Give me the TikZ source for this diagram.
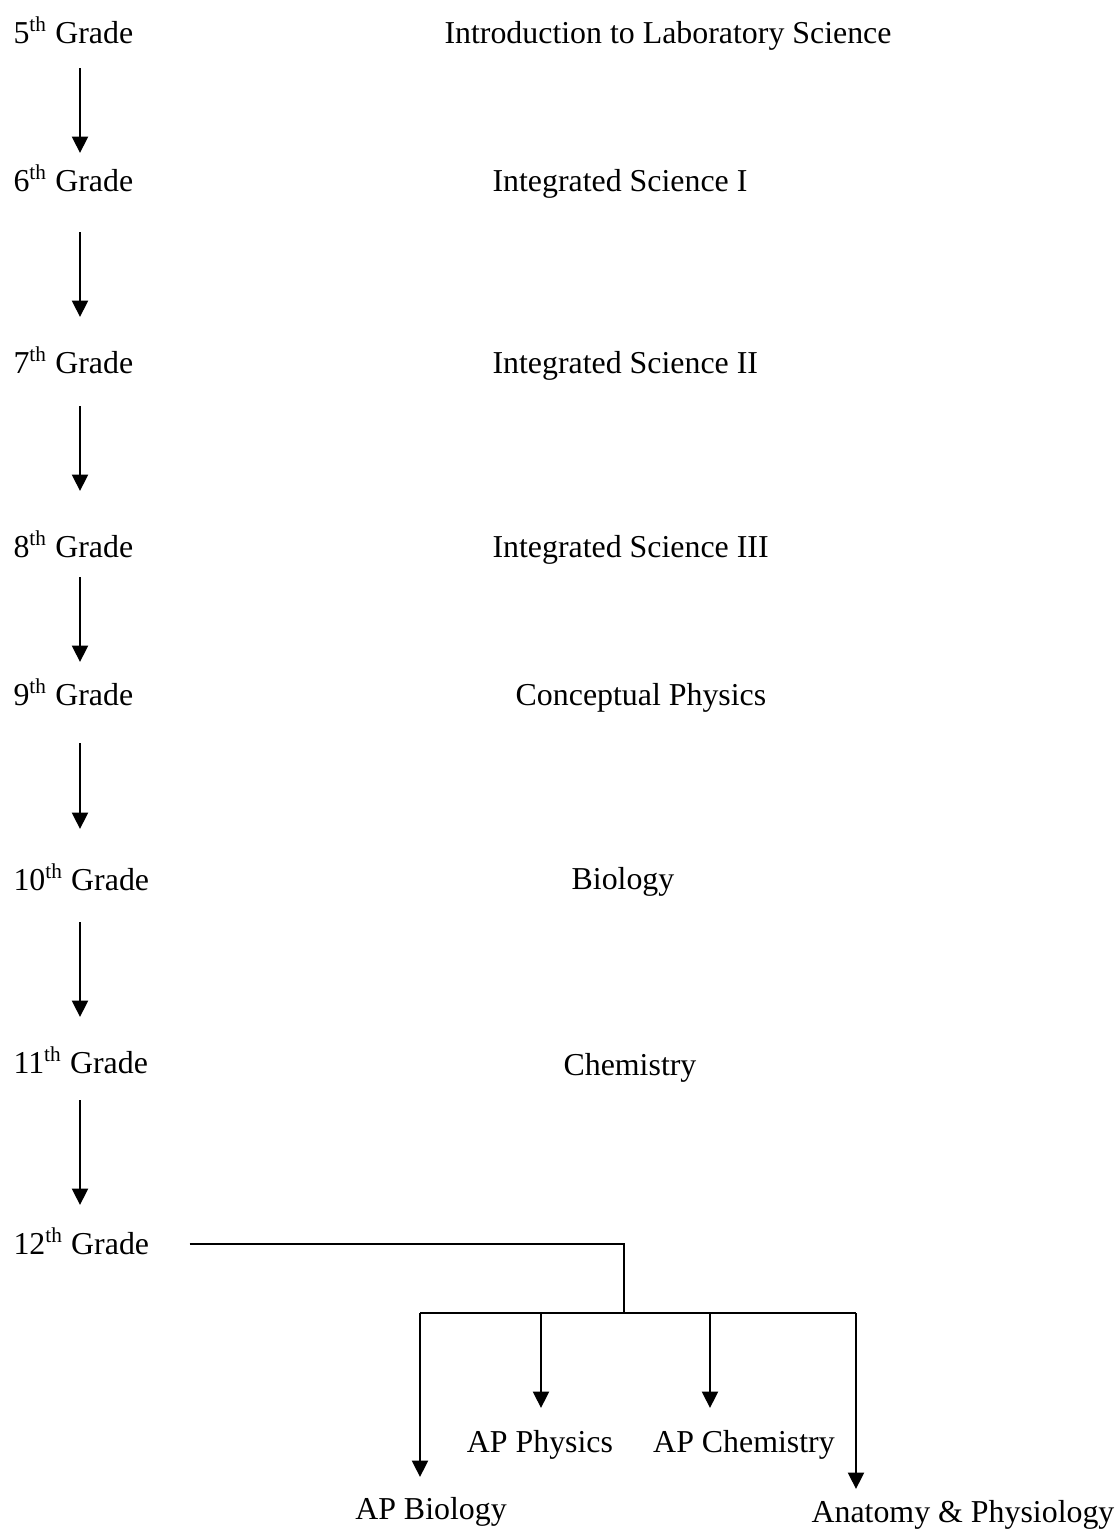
\documentclass[tikz,border=0pt]{standalone}
\usepackage{fontspec}
\setmainfont{Liberation Serif}
\usetikzlibrary{arrows.meta,calc}

\begin{document}
\begin{tikzpicture}[x=0.3765pt,y=-0.3765pt,
  grade/.style={anchor=base west,inner sep=0pt,font=\fontsize{12}{14}\selectfont},
  course/.style={anchor=base,inner sep=0pt,font=\fontsize{12}{14}\selectfont},
  flow/.style={-{Triangle[length=6.2pt,width=6pt]},line width=0.85pt},
  link/.style={line width=0.65pt}
]
\useasboundingbox (0,0) rectangle (1119,1530);

% grade column
\node[grade] (g5) at (13,43) {5\textsuperscript{th} Grade};
\node[grade] (g6) at (13,191) {6\textsuperscript{th} Grade};
\node[grade] (g7) at (13,373) {7\textsuperscript{th} Grade};
\node[grade] (g8) at (13,557) {8\textsuperscript{th} Grade};
\node[grade] (g9) at (13,705) {9\textsuperscript{th} Grade};
\node[grade] (g10) at (13,890) {10\textsuperscript{th} Grade};
\node[grade] (g11) at (13,1073) {11\textsuperscript{th} Grade};
\node[grade] (g12) at (13,1254) {12\textsuperscript{th} Grade};

% course column
\node[course] (c5) at (668,43) {Introduction to Laboratory Science};
\node[course,anchor=base west] (c6) at (492,191) {Integrated Science I};
\node[course,anchor=base west] (c7) at (492,373) {Integrated Science II};
\node[course,anchor=base west] (c8) at (492,557) {Integrated Science III};
\node[course] (c9) at (641,705) {Conceptual Physics};
\node[course] (c10) at (623,889) {Biology};
\node[course] (c11) at (630,1075) {Chemistry};

% senior electives
\node[course] (apphys) at (540,1452) {AP Physics};
\node[course] (apchem) at (744,1452) {AP Chemistry};
\node[course] (apbio) at (431,1519) {AP Biology};
\node[course] (anat) at (963,1522) {Anatomy \& Physiology};

\coordinate (spine) at (80,0);
\foreach \a/\b/\s/\e in {5/6/25/38,6/7/41/56,7/8/33/66,8/9/20/43,9/10/38/61,10/11/32/56,11/12/27/49}
  \draw[flow] ($(g\a.base -| spine)+(0,\s)$) -- ($(g\b.base -| spine)+(0,-\e)$);

\coordinate (fork) at (624,1313);
\coordinate (tbio) at (420,1313);
\coordinate (tphys) at (541,1313);
\coordinate (tchem) at (710,1313);
\coordinate (tanat) at (856,1313);

\draw[link] ($(g12.base east)+(40,-10)$) -| (fork);
\draw[link] (tbio) -- (tanat);
\foreach \t/\n/\g in {tbio/apbio/42,tphys/apphys/44,tchem/apchem/44,tanat/anat/33}
  \draw[flow] (\t) -- ($(\t |- \n.base)+(0,-\g)$);
\end{tikzpicture}
\end{document}
